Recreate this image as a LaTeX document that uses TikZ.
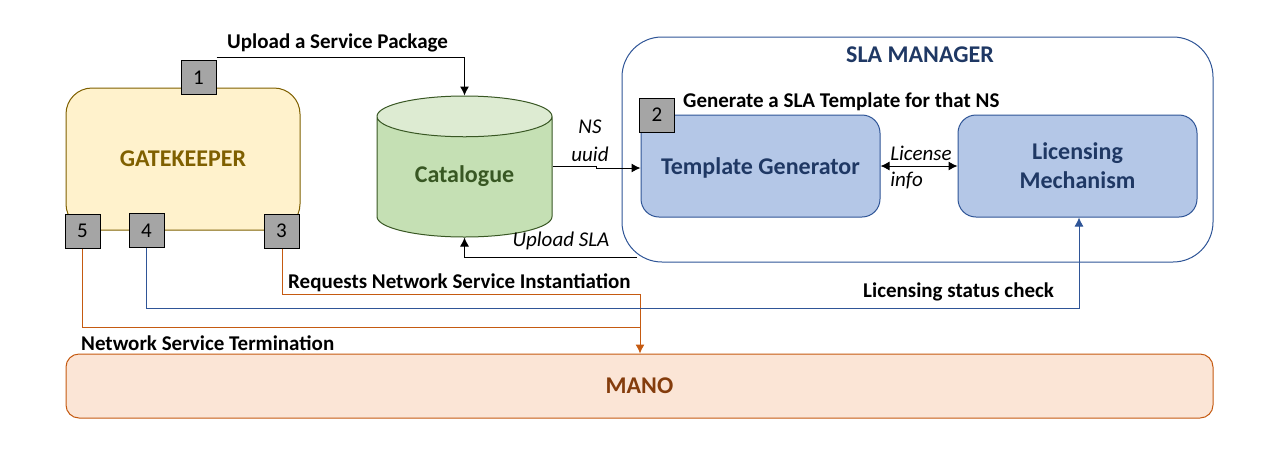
\documentclass[tikz,border=0pt]{standalone}
\usepackage{fontspec}
\setmainfont{Carlito}
\usetikzlibrary{shapes,shapes.geometric,arrows.meta,positioning,calc}
\definecolor{slaBlue}{HTML}{2F5597}
\definecolor{slaBlueFill}{HTML}{B4C7E7}
\definecolor{slaNavy}{HTML}{1F3864}
\definecolor{gkBrown}{HTML}{7F6000}
\definecolor{gkFill}{HTML}{FFF2CC}
\definecolor{catLine}{HTML}{385723}
\definecolor{catFill}{HTML}{C5E0B4}
\definecolor{catTop}{HTML}{DDEBD2}
\definecolor{manoLine}{HTML}{C55A11}
\definecolor{manoFill}{HTML}{FBE5D6}
\definecolor{manoText}{HTML}{843C0C}
\definecolor{stepGray}{HTML}{A5A5A5}
\tikzset{
    panel/.style={
        rectangle,
        draw,
        line width=1pt,
        inner sep=0pt,
        align=center,
        font=\fontsize{24}{29}\selectfont\bfseries
    },
    stepBox/.style={
        rectangle,
        draw=black,
        fill=stepGray,
        line width=1pt,
        minimum width=35pt,
        minimum height=34pt,
        inner sep=0pt,
        font=\fontsize{21}{24}\selectfont
    },
    % Text
    boldLabel/.style={font=\fontsize{21}{25}\selectfont\bfseries, inner sep=0pt, anchor=west},
    itLabel/.style={font=\fontsize{21}{28}\selectfont\itshape, inner sep=0pt, align=center},
    % Arrows
    flow/.style={-{Latex[length=9pt,width=9pt]}, line width=1pt, draw=black},
    flowBlue/.style={flow, draw=slaBlue},
    flowOrange/.style={flow, draw=manoLine}
}
\begin{document}
\begin{tikzpicture}[x=1pt, y=-1pt]
\useasboundingbox (0,0) rectangle (1280,459);

% --- Gatekeeper and its numbered ports ---
\node[panel, fill=gkFill, draw=gkBrown, text=gkBrown, rounded corners=26pt, minimum width=234pt, minimum height=142pt] (gatekeeper) at (183, 159) {GATEKEEPER};
\node[stepBox] (portOne) at (198.5, 77.5) {1};
\node[stepBox] (portFive) at (82.5, 231) {5};
\node[stepBox] (portFour) at (146.5, 230.5) {4};
\node[stepBox] (portThree) at (281.5, 231) {3};

% --- Catalogue ---
\node[cylinder, draw=catLine, line width=1pt, shape border rotate=90, aspect=0.41, minimum width=175pt, minimum height=141pt, inner sep=0pt,
    cylinder uses custom fill, cylinder body fill=catFill, cylinder end fill=catTop, anchor=south, text depth=6pt,
    text=catLine, font=\fontsize{24}{29}\selectfont\bfseries] (catalogue) at (464.5, 237.5) {Catalogue};

% --- SLA manager ---
\node[panel, fill=white, draw=slaBlue, rounded corners=40pt, minimum width=591pt, minimum height=225pt] (manager) at (917.5, 149.5) {};
\node[font=\fontsize{24}{29}\selectfont\bfseries, text=slaNavy, inner sep=0pt] (managerTitle) at (920, 55) {SLA MANAGER};
\node[panel, fill=slaBlueFill, draw=slaBlue, text=slaNavy, text depth=0pt, rounded corners=18pt, minimum width=239pt, minimum height=102pt] (generator) at (760.5, 166) {Template Generator};
\node[panel, fill=slaBlueFill, draw=slaBlue, text=slaNavy, rounded corners=18pt, minimum width=239pt, minimum height=102pt] (licensing) at (1077.5, 166) {Licensing\\Mechanism};
\node[stepBox] (portTwo) at (657, 115) {2};

% --- MANO ---
\node[panel, fill=manoFill, draw=manoLine, text=manoText, rounded corners=13pt, minimum width=1147pt, minimum height=64pt] (mano) at (639.5, 386) {MANO};

% --- Connectors ---
\coordinate (slaOut) at (637, 257);
\draw[flow] ([yshift=3pt]portOne.north east) -| (catalogue.north);
\draw[flow] (catalogue.east |- 0,166) -- (596,166) -- (596,168) -- (generator.west |- 0,168);
\draw[flow] (slaOut) -| (catalogue.south);
\draw[{Latex[length=9pt,width=9pt]}-{Latex[length=9pt,width=9pt]}, line width=1pt] (generator.east) -- (licensing.west);
\draw[flowOrange] ([xshift=1pt]portThree.south) |- (640,294) -- (mano.north -| 640,0);
\draw[flowBlue] (portFour.south) |- (1079,308) -- (licensing.south -| 1079,0);
\draw[line width=1pt, draw=manoLine] (portFive.south) |- (640,327);

% --- Labels ---
\node[boldLabel] (uploadLabel) at (227, 43) {Upload a Service Package};
\node[boldLabel] (generateLabel) at (683, 102) {Generate a SLA Template for that NS};
\node[boldLabel] (requestLabel) at (288, 283) {Requests Network Service Instantiation};
\node[boldLabel] (statusLabel) at (863, 292) {Licensing status check};
\node[boldLabel] (terminationLabel) at (81, 343) {Network Service Termination};
\node[itLabel] (uuidLabel) at (590, 141) {NS\\uuid};
\node[itLabel] (slaLabel) at (561, 241) {Upload SLA};
\node[itLabel, align=left] (licenseLabel) at (921, 167) {License\\[-2pt]info};

\end{tikzpicture}
\end{document}
